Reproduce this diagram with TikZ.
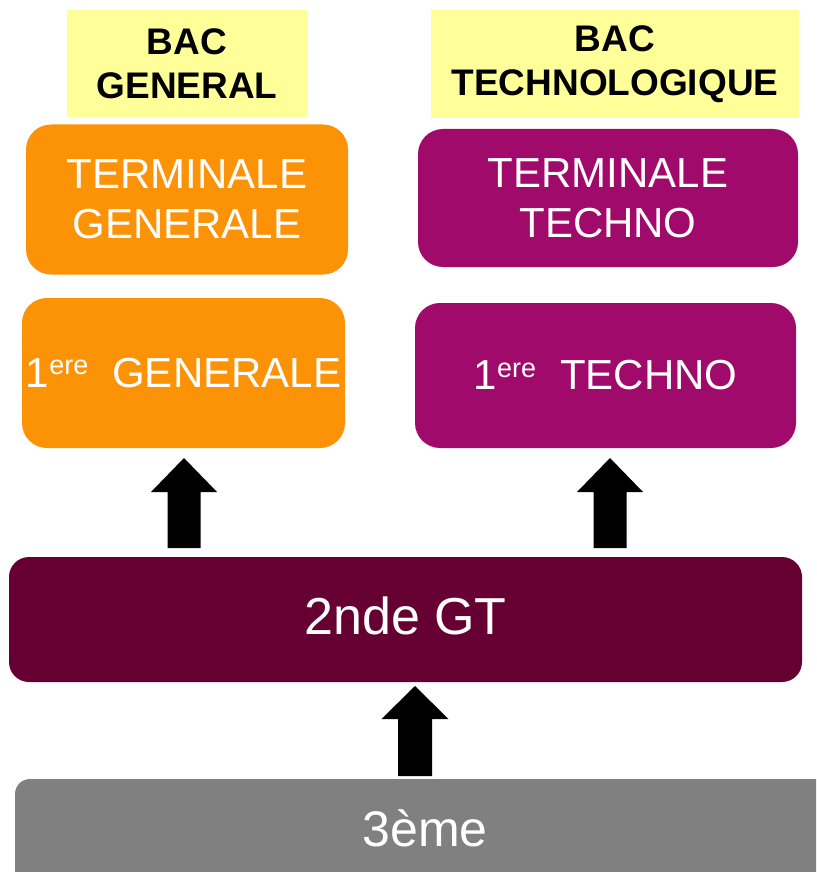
\documentclass[tikz,border=0pt]{standalone}
\usepackage{fontspec}
\setmainfont{Liberation Sans}
\definecolor{bacyellow}{HTML}{FFFF99}
\definecolor{genorange}{HTML}{FC9306}
\definecolor{techpurple}{HTML}{A00A6A}
\definecolor{maroon}{HTML}{660033}
\definecolor{greybox}{HTML}{808080}
\tikzset{
  bacbox/.style={fill=bacyellow, draw=none, inner sep=0pt, align=center,
    font=\fontsize{37}{44}\selectfont\bfseries, text=black},
  levelbox/.style={draw=none, inner sep=0pt, align=center, rounded corners=25pt,
    font=\fontsize{42}{50}\selectfont, text=white},
  levellabel/.style={inner sep=0pt, text=white},
  blockarrow/.style={fill=black, draw=none},
}
\newcommand{\supere}{\raisebox{12.7pt}{\fontsize{27}{30}\selectfont ere}}
\begin{document}
\begin{tikzpicture}[x=1pt,y=-1pt]
\path[use as bounding box, clip] (0,0) rectangle (816,872);
\fill[white] (0,0) rectangle (816,872);

\node[bacbox, minimum width=240pt, minimum height=107pt] (bacg) at (187,63.5) {BAC\\GENERAL};
\node[bacbox, minimum width=368pt, minimum height=108pt] (bact) at (615,64) {BAC\\TECHNOLOGIQUE};

\node[levelbox, fill=genorange, minimum width=322pt, minimum height=150pt] (termg) at (187,199.5) {TERMINALE\\GENERALE};
\node[levelbox, fill=techpurple, minimum width=380pt, minimum height=138pt] (termt) at (608,198) {TERMINALE\\TECHNO};

\node[levelbox, fill=genorange, minimum width=323pt, minimum height=150pt] (premg) at (183.5,373) {1\supere\hspace{24pt}GENERALE};
\node[levelbox, fill=techpurple, minimum width=381pt, minimum height=145pt] (premt) at (605.5,375.5) {1\supere\hspace{24pt}TECHNO};

\node[levelbox, fill=maroon, rounded corners=20pt, minimum width=793pt, minimum height=125pt] (seconde) at (405.5,619.5) {};
\node[levellabel, font=\fontsize{52}{60}\selectfont] (secondetext) at (405.5,615.5) {2nde GT};

\fill[greybox, rounded corners=15pt] (15,779) rectangle (870,900);
\node[levellabel, font=\fontsize{50}{58}\selectfont] (troisieme) at (425,828) {3ème};

% block arrows
\coordinate (a1) at (184,458);
\coordinate (a2) at (610,458);
\coordinate (a3) at (415,686);
\fill[blockarrow] (a1) -- ++(33,34) -- ++(-16.5,0) -- ++(0,56) -- ++(-33,0) -- ++(0,-56) -- ++(-16.5,0) -- cycle;
\fill[blockarrow] (a2) -- ++(33,34) -- ++(-16.5,0) -- ++(0,56) -- ++(-33,0) -- ++(0,-56) -- ++(-16.5,0) -- cycle;
\fill[blockarrow] (a3) -- ++(33.5,33) -- ++(-16.5,0) -- ++(0,57) -- ++(-34,0) -- ++(0,-57) -- ++(-16.5,0) -- cycle;
\end{tikzpicture}
\end{document}
